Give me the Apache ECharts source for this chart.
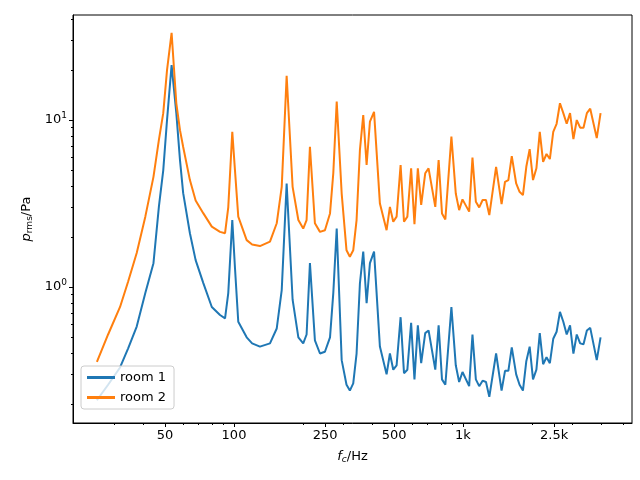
<!DOCTYPE html>
<html><head><meta charset="utf-8">
<script src="https://cdn.jsdelivr.net/npm/echarts@6/dist/echarts.min.js"></script>
<style>html,body{margin:0;padding:0;background:#fff}#c{width:640px;height:480px}</style>
</head><body><div id="c"></div>
<script>
var freqs = [25.2,28.2,31.8,34.5,37.6,41,44.5,47,49.1,51,53.4,56,58.1,60,64.2,68,73.4,80,86.9,91.4,94.4,98.3,101,104.4,113.6,120,129.8,143.6,153.7,161.6,169.8,180.3,191,200.6,207.5,214.6,225.6,237.4,249.5,262.6,271.4,280.9,295.3,310,320.6,331.7,343,354.7,366.8,379.4,392.3,408.9,433.7,463.8,479.6,496,513,534,552.6,571.6,593.6,613.8,635.1,656.8,684,707.4,756.9,782.7,809.6,837.4,890,930,962,995,1064,1100,1138,1177,1218,1260,1303,1395,1474,1526,1578,1633,1707,1766,1827,1890,1955,2022,2092,2164,2238,2316,2395,2478,2563,2651,2742,2837,2934,3035,3139,3248,3359,3475,3594,3838,3988];
var room1 = [0.21,0.26,0.33,0.43,0.58,0.92,1.39,3.03,5.0,10.0,21.3,11.0,5.76,3.65,2.1,1.45,1.06,0.76,0.68,0.65,0.92,2.52,1.3,0.62,0.50,0.46,0.44,0.46,0.565,0.96,4.17,0.84,0.50,0.46,0.52,1.39,0.48,0.40,0.41,0.50,0.92,2.24,0.365,0.26,0.24,0.265,0.40,1.05,1.63,0.80,1.39,1.63,0.44,0.30,0.40,0.32,0.34,0.66,0.305,0.32,0.61,0.28,0.59,0.35,0.53,0.55,0.32,0.59,0.28,0.26,0.76,0.34,0.27,0.31,0.255,0.52,0.28,0.255,0.275,0.27,0.22,0.40,0.24,0.315,0.315,0.435,0.30,0.26,0.24,0.36,0.44,0.28,0.32,0.53,0.345,0.38,0.35,0.49,0.54,0.71,0.62,0.52,0.59,0.40,0.52,0.46,0.455,0.55,0.57,0.365,0.50];
var room2 = [0.357,0.52,0.76,1.08,1.6,2.64,4.57,7.6,11.0,19.9,33.3,12.6,8.7,6.9,4.37,3.3,2.77,2.3,2.14,2.1,3.0,8.5,5.0,2.64,1.91,1.8,1.76,1.87,2.41,3.98,18.4,3.98,2.52,2.24,2.52,6.92,2.41,2.14,2.19,2.76,4.8,12.9,3.63,1.66,1.52,1.66,2.52,6.6,10.7,5.38,9.78,11.2,3.16,2.19,3.02,2.46,2.64,5.38,2.46,2.64,5.14,2.38,5.14,3.1,4.8,5.14,3.02,5.76,2.76,2.54,7.95,3.63,2.89,3.35,2.83,5.97,3.24,3.0,3.32,3.32,2.7,5.25,3.14,4.27,4.37,6.08,4.17,3.72,3.55,5.25,6.7,4.37,5.14,8.5,5.62,6.26,5.84,8.5,9.5,12.6,11.0,9.5,11.0,7.7,10.0,9.0,9.0,11.0,11.7,7.8,11.0];
var xTicks = [50,100,250,500,1000,2500];
var xTickLabels = ['50','100','250','500','1k','2.5k'];
var xMinor = [30,40,60,70,80,90,200,300,400,600,700,800,900,2000,3000,4000,5000];
var yTicks = [1,10];
var yMinor = [0.2,0.3,0.4,0.5,0.6,0.7,0.8,0.9,2,3,4,5,6,7,8,9,20,30,40];

var L = Math.log10;
var xmin = 1.297, xmax = 3.738, ymin = -0.814, ymax = 1.629;
function pts(v){ return freqs.map(function(f,i){ return [L(f), L(v[i])]; }); }
var chart = echarts.init(document.getElementById('c'));
var base = {type:'value', min:xmin, max:xmax, splitLine:{show:false}};
var txt = {color:'#000', fontFamily:'DejaVu Sans', fontSize:13};
chart.setOption({
  animation:false,
  grid:{left:73,right:8,top:15,bottom:57,show:true,borderColor:'#000',borderWidth:1,backgroundColor:'transparent'},
  legend:{left:81,top:366,orient:'vertical',itemWidth:28,itemHeight:3,itemGap:7,
    borderColor:'#ccc',borderWidth:1,borderRadius:3,padding:[5,8,5,6],backgroundColor:'rgba(255,255,255,0.8)',
    textStyle:{fontFamily:'DejaVu Sans',fontSize:13,color:'#000'},
    data:[{name:'room 1',icon:'rect'},{name:'room 2',icon:'rect'}]},
  xAxis:[
    Object.assign({}, base, {position:'bottom',
      axisLine:{show:true,onZero:false,lineStyle:{color:'#000'}},
      axisTick:{show:true,inside:false,length:4,lineStyle:{color:'#000'},customValues:xTicks.map(L)},
      axisLabel:Object.assign({margin:6,customValues:xTicks.map(L),formatter:function(v){
        for(var i=0;i<xTicks.length;i++){ if(Math.abs(L(xTicks[i])-v)<1e-6) return xTickLabels[i]; } return '';}}, txt),
      name:'{i|f}{s|c}/Hz', nameLocation:'middle', nameGap:26,
      nameTextStyle:{color:'#000',fontFamily:'DejaVu Sans',fontSize:13,rich:{i:{fontStyle:'italic',fontSize:13,fontFamily:'DejaVu Sans'},s:{fontStyle:'italic',fontSize:9,verticalAlign:'bottom',padding:[6,0,0,0],fontFamily:'DejaVu Sans'}}}}),
    Object.assign({}, base, {position:'bottom',axisLine:{show:false,onZero:false},axisLabel:{show:false},
      axisTick:{show:true,length:2,lineStyle:{color:'#000'},customValues:xMinor.map(L)}})
  ],
  yAxis:[
    {type:'value',position:'left',min:ymin,max:ymax,splitLine:{show:false},
      axisLine:{show:true,onZero:false,lineStyle:{color:'#000'}},
      axisTick:{show:true,length:4,lineStyle:{color:'#000'},customValues:yTicks.map(L)},
      axisLabel:{margin:6,customValues:yTicks.map(L),color:'#000',fontFamily:'DejaVu Sans',fontSize:13,
        formatter:function(v){ return '10{s|'+Math.round(v)+'}'; },
        rich:{s:{fontSize:9,verticalAlign:'top',padding:[0,0,8,0],fontFamily:'DejaVu Sans',color:'#000'}}},
      name:'{i|p}{s|rms}/Pa', nameLocation:'middle', nameGap:34, nameRotate:90,
      nameTextStyle:{color:'#000',fontFamily:'DejaVu Sans',fontSize:13,rich:{i:{fontStyle:'italic',fontSize:13,fontFamily:'DejaVu Sans'},s:{fontSize:9,padding:[6,0,0,0],fontFamily:'DejaVu Sans'}}}},
    {type:'value',position:'left',offset:0,min:ymin,max:ymax,splitLine:{show:false},axisLine:{show:false,onZero:false},axisLabel:{show:false},
      axisTick:{show:true,length:2,lineStyle:{color:'#000'},customValues:yMinor.map(L)}}
  ],
  series:[
    {name:'room 1',type:'line',data:pts(room1),showSymbol:false,lineStyle:{width:2,color:'#1f77b4'},itemStyle:{color:'#1f77b4'}},
    {name:'room 2',type:'line',data:pts(room2),showSymbol:false,lineStyle:{width:2,color:'#ff7f0e'},itemStyle:{color:'#ff7f0e'}}
  ]
});
</script></body></html>
